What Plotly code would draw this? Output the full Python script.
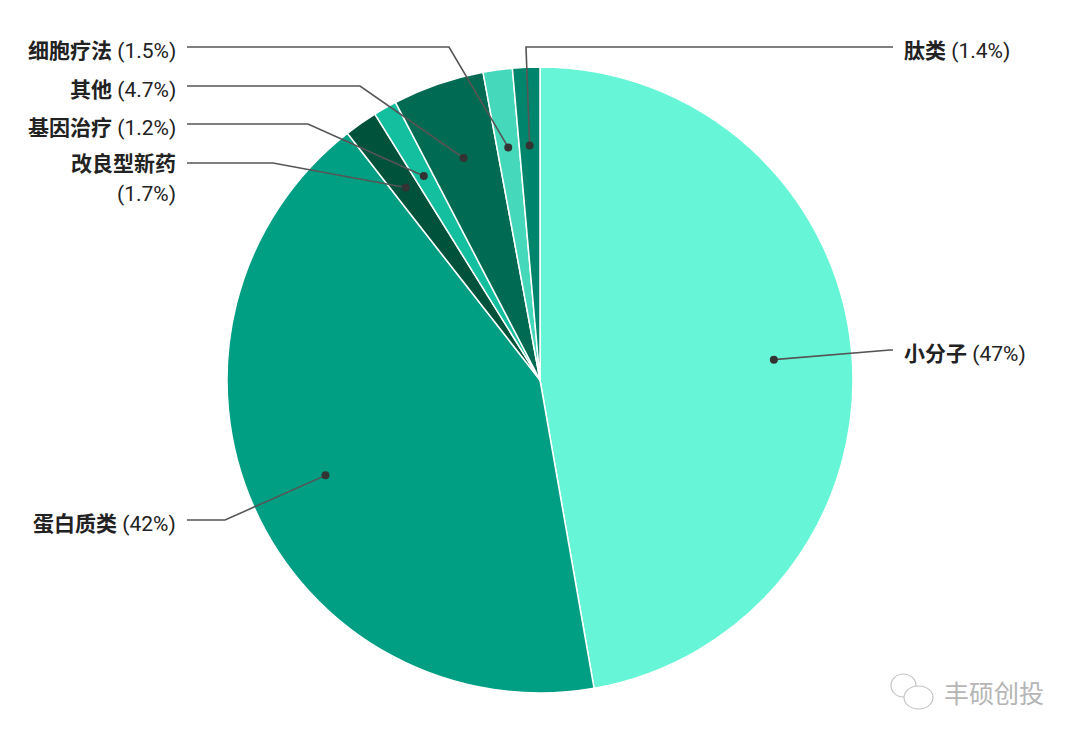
import math
import plotly.graph_objects as go

# ---- data ----
categories = ["小分子", "蛋白质类", "改良型新药", "基因治疗", "其他", "细胞疗法", "肽类"]
values = [47, 42, 1.7, 1.2, 4.7, 1.5, 1.4]
pct_labels = ["(47%)", "(42%)", "(1.7%)", "(1.2%)", "(4.7%)", "(1.5%)", "(1.4%)"]

# ---- style / layout ----
colors = ["#66F5D6", "#009E83", "#00523B", "#14BF9F", "#006B52", "#45D8BA", "#00856D"]
W, H = 1080, 743
CX, CY, R = 540, 380, 313
DOT_R = 0.75
# per-slice label layout: side, line y, elbow x
label_side = ["right", "left", "left", "left", "left", "left", "right"]
label_y = [350, 520, 163, 124, 86, 47, 47]
elbow_x = [890, 225, 273, 308, 360, 449, 526]
LEFT_END, RIGHT_END = 187, 893
LEFT_TEXT, RIGHT_TEXT = 178, 902
FONT = "Roboto, 'Noto Sans CJK SC', sans-serif"
LINE_COLOR = "#555555"

fig = go.Figure()
fig.add_trace(go.Pie(
    labels=categories, values=values, sort=False, direction="clockwise",
    rotation=0, marker=dict(colors=colors, line=dict(color="white", width=1.5)),
    textinfo="none", hoverinfo="label+percent", showlegend=False,
    domain=dict(x=[(CX - R) / W, (CX + R) / W], y=[1 - (CY + R) / H, 1 - (CY - R) / H]),
))

total = sum(values)
cum = 0
for i, v in enumerate(values):
    mid = (cum + v / 2) / total * 2 * math.pi
    cum += v
    dx = CX + DOT_R * R * math.sin(mid)
    dy = CY - DOT_R * R * math.cos(mid)
    end_x = RIGHT_END if label_side[i] == "right" else LEFT_END
    fig.add_shape(type="path", xref="x", yref="y", layer="above",
                  path=f"M {end_x} {label_y[i]} L {elbow_x[i]} {label_y[i]} L {dx:.2f} {dy:.2f}",
                  line=dict(color=LINE_COLOR, width=1.6))
    fig.add_shape(type="circle", xref="x", yref="y", layer="above",
                  x0=dx - 4, x1=dx + 4, y0=dy - 4, y1=dy + 4,
                  fillcolor="#333333", line=dict(width=0))
    if categories[i] == "改良型新药":
        fig.add_annotation(x=LEFT_TEXT, y=label_y[i] + 1, xanchor="right", yanchor="middle",
                           text="<b>" + categories[i] + "</b>", showarrow=False)
        fig.add_annotation(x=LEFT_TEXT, y=label_y[i] + 31, xanchor="right", yanchor="middle",
                           text=pct_labels[i], showarrow=False)
    else:
        fig.add_annotation(
            x=LEFT_TEXT if label_side[i] == "left" else RIGHT_TEXT, y=label_y[i] + 4,
            xanchor="right" if label_side[i] == "left" else "left", yanchor="middle",
            text="<b>" + categories[i] + "</b> " + pct_labels[i], showarrow=False)

# watermark
fig.add_shape(type="circle", x0=891, x1=916, y0=674, y1=697, line=dict(color="#c4c4c4", width=1.2))
fig.add_shape(type="circle", x0=904, x1=933, y0=686, y1=709, line=dict(color="#c4c4c4", width=1.2),
              fillcolor="white")
fig.add_annotation(x=942, y=692, xanchor="left", yanchor="middle", text="丰硕创投",
                   showarrow=False, font=dict(size=25, color="#b5b5b5", family="'Noto Sans CJK SC'"))

fig.update_layout(
    width=W, height=H, margin=dict(l=0, r=0, t=0, b=0),
    paper_bgcolor="white", plot_bgcolor="rgba(0,0,0,0)",
    font=dict(family=FONT, size=21, color="#222222"),
    xaxis=dict(range=[0, W], visible=False, fixedrange=True),
    yaxis=dict(range=[H, 0], visible=False, fixedrange=True),
)
fig.write_html("out.html", config={"displayModeBar": False},
               post_script="document.body.style.margin='0';document.body.style.padding='0';")
